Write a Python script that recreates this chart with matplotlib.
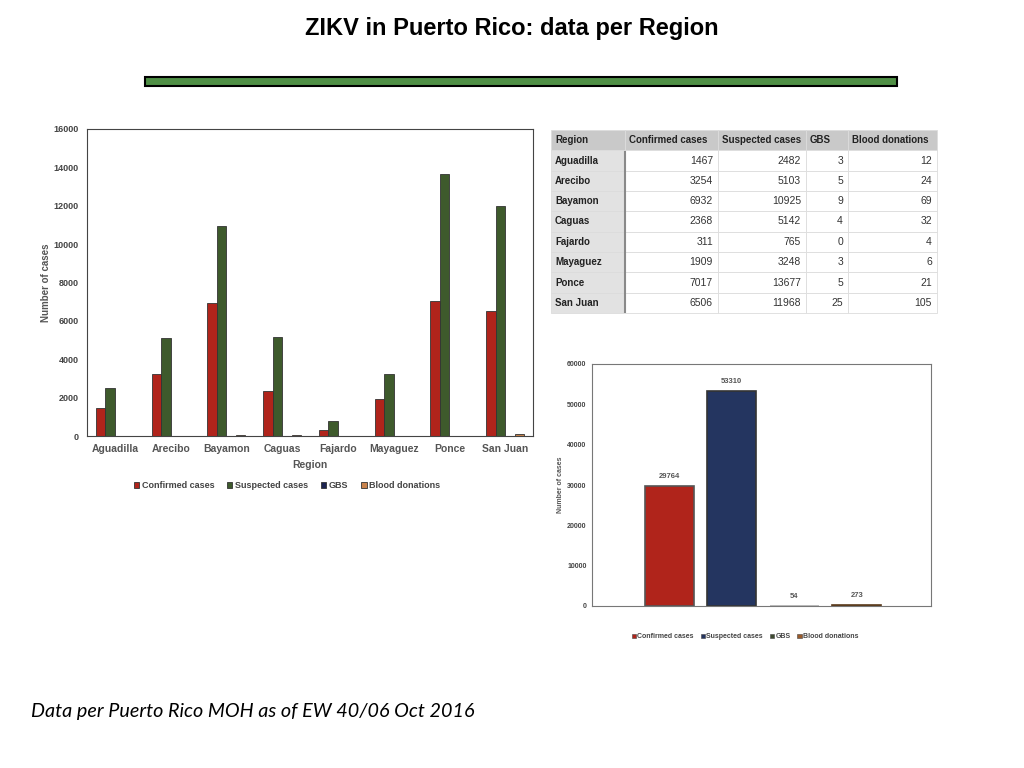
import numpy as np
import matplotlib
matplotlib.use('Agg')
import matplotlib.pyplot as plt
from matplotlib.patches import Rectangle, Patch

# datos por region
regions = ['Aguadilla', 'Arecibo', 'Bayamon', 'Caguas', 'Fajardo', 'Mayaguez', 'Ponce', 'San Juan']
confirmed = [1467, 3254, 6932, 2368, 311, 1909, 7017, 6506]
suspected = [2482, 5103, 10925, 5142, 765, 3248, 13677, 11968]
gbs = [3, 5, 9, 4, 0, 3, 5, 25]
blood = [12, 24, 69, 32, 4, 6, 21, 105]

series_names = ['Confirmed cases', 'Suspected cases', 'GBS', 'Blood donations']
totals = [29764, 53310, 54, 273]

plt.rcParams['font.family'] = ['Liberation Sans', 'DejaVu Sans']

fig = plt.figure(figsize=(10.24, 7.68), dpi=100)
fig.patch.set_facecolor('white')

# titulo y barra verde
fig.text(0.5, 1 - 29 / 768, 'ZIKV in Puerto Rico: data per Region', ha='center', va='center',
         fontsize=17, fontweight='bold')
fig.patches.append(Rectangle((145 / 1024, 1 - 86 / 768), 752 / 1024, 9 / 768, transform=fig.transFigure,
                             facecolor='#4f8f45', edgecolor='black', linewidth=1.5))

grey = '#555555'

# ---- grafico izquierdo ----
ax1 = fig.add_axes([87 / 1024, 1 - 436 / 768, 446 / 1024, 307 / 768])
x = np.arange(len(regions))
w = 0.17
cols_left = ['#b0241b', '#3e5a2c', '#1c2452', '#c9834c']
for i, (vals, c) in enumerate(zip([confirmed, suspected, gbs, blood], cols_left)):
    ax1.bar(x + (i - 1.5) * w, vals, w, color=c, edgecolor='#333333', linewidth=0.6, label=series_names[i])
ax1.set_xlim(-0.5, len(regions) - 0.5)
ax1.set_ylim(0, 16000)
ax1.set_yticks(np.arange(0, 16001, 2000))
ax1.set_xticks(x)
ax1.set_xticklabels(regions)
ax1.tick_params(length=0, labelsize=6.5, colors=grey, pad=6)
for lab in ax1.get_xticklabels():
    lab.set_fontsize(7.5)
    lab.set_fontweight('bold')
for lab in ax1.get_yticklabels():
    lab.set_fontweight('bold')
    lab.set_color('#444444')
ax1.set_xlabel('Region', fontsize=7.5, fontweight='bold', color=grey, labelpad=4)
ax1.set_ylabel('Number of cases', fontsize=7, fontweight='bold', color=grey, labelpad=2)
for s in ax1.spines.values():
    s.set_color('#444444')
    s.set_linewidth(0.8)
h1, l1 = ax1.get_legend_handles_labels()
fig.legend(h1, l1, loc='center', bbox_to_anchor=(287 / 1024, 1 - 486 / 768), ncol=4, frameon=False,
           handlelength=0.6, handleheight=0.6, handletextpad=0.3, columnspacing=1.4,
           prop={'size': 6.5, 'weight': 'bold'}, labelcolor='#444444')

# ---- tabla ----
axt = fig.add_axes([551 / 1024, 1 - 313 / 768, 386 / 1024, 183 / 768])
axt.axis('off')
header = ['Region'] + series_names
cell_text = [[r, str(a), str(b), str(c), str(d)] for r, a, b, c, d in zip(regions, confirmed, suspected, gbs, blood)]
col_px = np.array([74, 93, 88, 42, 89])
tbl = axt.table(cellText=cell_text, colLabels=header, colWidths=col_px / col_px.sum(), bbox=[0, 0, 1, 1])
tbl.auto_set_font_size(False)
for (r, c), cell in tbl.get_celld().items():
    t = cell.get_text()
    cell.set_edgecolor('#dcdcdc')
    cell.set_linewidth(0.6)
    t.set_va('center')
    if r == 0:
        cell.set_facecolor('#c9c9c9')
        t.set_fontsize(7)
        t.set_fontweight('bold')
        t.set_color('#222222')
        t.set_ha('left')
        cell.PAD = 4 / col_px[c]
    elif c == 0:
        cell.set_facecolor('#e2e2e2')
        t.set_fontsize(7)
        t.set_fontweight('bold')
        t.set_color('#222222')
        t.set_ha('left')
        cell.PAD = 4 / col_px[c]
    else:
        cell.set_facecolor('white')
        t.set_fontsize(7.5)
        t.set_color('#333333')
        t.set_ha('right')
        cell.PAD = 5 / col_px[c]
axt.plot([74 / 386, 74 / 386], [0, 161 / 183], color='#8a8a8a', linewidth=1.5, transform=axt.transAxes)

# ---- grafico derecho ----
ax2 = fig.add_axes([592 / 1024, 1 - 606 / 768, 339 / 1024, 242 / 768])
cols_right = ['#b0241b', '#243560', '#3e4a30', '#9a5a2a']
edges_right = ['#555555', '#333333', '#b0b0b0', '#5a3a1a']
xr = np.arange(len(totals))
for i in range(len(totals)):
    ax2.bar(xr[i], totals[i], 0.78, color=cols_right[i], edgecolor=edges_right[i], linewidth=1.2)
    ax2.text(xr[i], totals[i] + 1500, str(totals[i]), ha='center', va='bottom', fontsize=5.5,
             fontweight='bold', color=grey)
ax2.set_xlim(-1.24, 4.19)
ax2.set_ylim(0, 60000)
ax2.set_yticks(np.arange(0, 60001, 10000))
ax2.set_xticks([])
ax2.tick_params(length=0, labelsize=5, colors='#444444', pad=4)
for lab in ax2.get_yticklabels():
    lab.set_fontweight('bold')
ax2.set_ylabel('Number of cases', fontsize=5, fontweight='bold', color=grey, labelpad=2)
for s in ax2.spines.values():
    s.set_color('#777777')
    s.set_linewidth(0.8)
h2 = [Patch(facecolor=c, edgecolor='#444444', linewidth=0.4) for c in cols_right]
fig.legend(h2, series_names, loc='center', bbox_to_anchor=(745 / 1024, 1 - 637 / 768), ncol=4, frameon=False,
           handlelength=0.6, handleheight=0.6, handletextpad=0.2, columnspacing=1.0,
           prop={'size': 5, 'weight': 'bold'}, labelcolor='#444444')

# nota al pie
fig.text(31 / 1024, 1 - 712 / 768, 'Data per Puerto Rico MOH as of EW 40/06 Oct 2016', ha='left', va='center',
         fontsize=14.2, style='italic', family=['Lato', 'DejaVu Sans'])

fig.savefig('out.png', dpi=100)
